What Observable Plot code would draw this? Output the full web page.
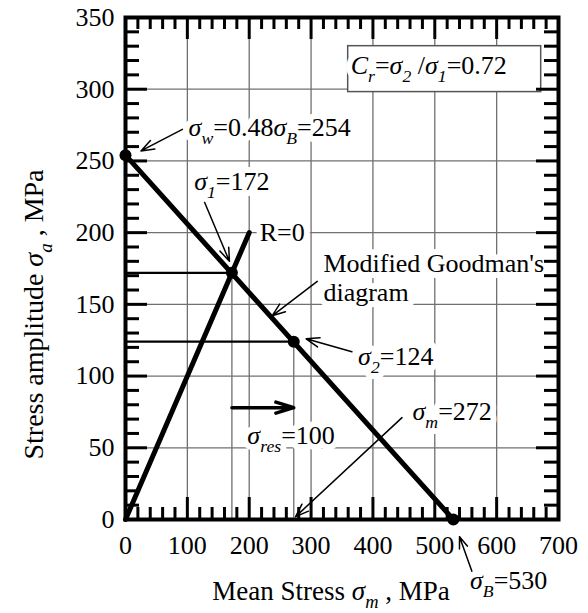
<!DOCTYPE html>
<html><head><meta charset="utf-8">
<script src="https://cdn.jsdelivr.net/npm/d3@7"></script>
<script src="https://cdn.jsdelivr.net/npm/@observablehq/plot@0.6"></script>
<style>body{margin:0;background:#fff} svg, svg text, svg tspan{font-family:"Liberation Serif","Times New Roman",serif !important}</style>
</head><body><div id="chart"></div>
<script>
// ---- axes ----
const xTicks = [0, 100, 200, 300, 400, 500, 600, 700];
const yTicks = [0, 50, 100, 150, 200, 250, 300, 350];
const xLabel = "Mean Stress *σ*_{m} , MPa";
const yLabel = "Stress amplitude *σ*_{a} , MPa";

// ---- data ----
const goodmanX = [0, 530];
const goodmanY = [254, 0];
const r0X = [0, 200];
const r0Y = [0, 200];
const pointX = [0, 172, 272, 530];
const pointY = [254, 172, 124, 0];
const guideX = [172, 272];
const guideY = [172, 124];
const resX1 = [172];
const resX2 = [272];
const resY = [78];

// ---- annotations (data units) ----
const labelText = [
  "*σ*_{w}=0.48*σ*_{B}=254",
  "*σ*_{1}=172",
  "R=0",
  "Modified Goodman's\ndiagram",
  "*σ*_{2}=124",
  "*σ*_{res}=100",
  "*σ*_{m}=272",
  "*σ*_{B}=530",
  "*C*_{r}=*σ*_{2} /*σ*_{1}=0.72"
];
const labelX = [102, 111, 217, 320, 376, 197, 464, 557, 364];
const labelY = [274, 236, 201, 169, 114, 59, 76, -42, 317];
const arrowX1 = [92, 128, 310, 366, 447, 560];
const arrowY1 = [272, 221, 166, 117, 71, -36];
const arrowX2 = [25, 168, 237, 292, 275, 540];
const arrowY2 = [257, 180, 142, 126, 2, -12];
const boxX1 = [360], boxX2 = [672], boxY1 = [298], boxY2 = [330];

// ---- layout ----
const W = 588, H = 613, mL = 125, mR = 30, mT = 17, mB = 94;
const fw = W - mL - mR, fh = H - mT - mB;
const serif = "Liberation Serif";
const FONT = '"Liberation Serif", "Times New Roman", serif';
const grid = "#707070";
const xMinor = d3.range(0, 701, 20).filter(v => v % 100);
const yMinor = d3.range(0, 351, 10).filter(v => v % 50);
const tk = {stroke: "black", strokeWidth: 3};
const lab = {x: (d, i) => labelX[i], y: (d, i) => labelY[i], text: d => d,
  textAnchor: "start", lineAnchor: "middle", fontSize: 26, lineHeight: 1.12, fontFamily: serif};

const plot = Plot.plot({
  width: W, height: H,
  marginLeft: mL, marginRight: mR, marginTop: mT, marginBottom: mB,
  style: {fontFamily: serif, fontSize: "24px", background: "white", color: "black", overflow: "visible"},
  x: {domain: [0, 700]},
  y: {domain: [0, 350]},
  marks: [
    Plot.ruleX(xTicks.slice(1, -1), {x: d => d, stroke: grid, strokeWidth: 1.3}),
    Plot.ruleY(yTicks.slice(1, -1), {y: d => d, stroke: grid, strokeWidth: 1.3}),
    Plot.ruleX(guideX, {x: d => d, y1: 0, y2: (d, i) => guideY[i], stroke: grid, strokeWidth: 1.3}),
    Plot.ruleY(guideY, {y: d => d, x1: 0, x2: (d, i) => guideX[i], stroke: "black", strokeWidth: 2.2}),
    Plot.rect(boxX1, {x1: d => d, x2: (d, i) => boxX2[i], y1: (d, i) => boxY1[i], y2: (d, i) => boxY2[i],
      fill: "white", stroke: "#555", strokeWidth: 1.5}),
    // white background behind the labels, then the labels
    Plot.text(labelText, {...lab, fill: "white", stroke: "white", strokeWidth: 12, strokeLinejoin: "round"}),
    Plot.text(labelText, {...lab, fill: "black"}),
    Plot.line(goodmanX, {x: d => d, y: (d, i) => goodmanY[i], stroke: "black", strokeWidth: 5}),
    Plot.line(r0X, {x: d => d, y: (d, i) => r0Y[i], stroke: "black", strokeWidth: 5}),
    Plot.dot(pointX, {x: d => d, y: (d, i) => pointY[i], r: 6, fill: "black"}),
    Plot.arrow(resX1, {x1: d => d, x2: (d, i) => resX2[i], y1: (d, i) => resY[i], y2: (d, i) => resY[i],
      stroke: "black", strokeWidth: 3.5, headLength: 8, headAngle: 34}),
    Plot.arrow(arrowX1, {x1: d => d, y1: (d, i) => arrowY1[i], x2: (d, i) => arrowX2[i], y2: (d, i) => arrowY2[i],
      stroke: "black", strokeWidth: 1.5, headLength: 14, headAngle: 40}),
    Plot.tickX(xMinor, {x: d => d, insetTop: fh - 12, ...tk}),
    Plot.tickX(xTicks, {x: d => d, insetTop: fh - 22, ...tk}),
    Plot.tickX(xMinor, {x: d => d, insetBottom: fh - 12, ...tk}),
    Plot.tickX(xTicks, {x: d => d, insetBottom: fh - 22, ...tk}),
    Plot.tickY(yMinor, {y: d => d, insetRight: fw - 14, ...tk}),
    Plot.tickY(yTicks, {y: d => d, insetRight: fw - 22, ...tk}),
    Plot.tickY(yMinor, {y: d => d, insetLeft: fw - 14, ...tk}),
    Plot.tickY(yTicks, {y: d => d, insetLeft: fw - 22, ...tk}),
    Plot.frame({stroke: "black", strokeWidth: 4}),
    Plot.axisX(xTicks, {tickSize: 0, tickPadding: 16, fontSize: 26, fontFamily: serif, label: null}),
    Plot.axisY(yTicks, {tickSize: 0, tickPadding: 11, fontSize: 26, fontFamily: serif, label: null}),
    Plot.text([xLabel], {text: d => d, frameAnchor: "bottom", textAnchor: "middle", lineAnchor: "middle",
      dx: -11, dy: 72, fontSize: 27, fontFamily: serif, fill: "black"}),
    Plot.text([yLabel], {text: d => d, frameAnchor: "left", textAnchor: "middle", lineAnchor: "middle",
      rotate: -90, dx: -91, dy: 46, fontSize: 28, fontFamily: serif, fill: "black"})
  ]
});
document.getElementById("chart").append(plot);

// in-SVG stylesheet so the font survives even if the SVG is read on its own
const NS = "http://www.w3.org/2000/svg";
const st = document.createElementNS(NS, "style");
st.textContent = 'text, tspan { font-family: "Liberation Serif", "Times New Roman", serif !important; }';
plot.insertBefore(st, plot.firstChild);
plot.style.fontFamily = FONT;

// rich text: *x* italic, _{x} italic subscript
function richify(el) {
  const s = el.textContent;
  if (/[_*]/.test(s) && !el.querySelector("tspan")) {
    const fs = parseFloat(getComputedStyle(el).fontSize) || 24;
    while (el.firstChild) el.removeChild(el.firstChild);
    const re = /\*([^*]+)\*|_\{([^}]*)\}|([^*_]+)/g;
    let m, shift = 0;
    const sub = fs * 0.3;
    while ((m = re.exec(s))) {
      const t = document.createElementNS(NS, "tspan");
      let want = 0;
      if (m[1] !== undefined) { t.setAttribute("font-style", "italic"); t.textContent = m[1]; }
      else if (m[2] !== undefined) {
        t.setAttribute("font-style", "italic");
        t.setAttribute("font-size", (fs * 0.68).toFixed(1));
        t.textContent = m[2];
        want = sub;
      } else t.textContent = m[3];
      if (want !== shift) { t.setAttribute("dy", (want - shift).toFixed(1)); shift = want; }
      el.appendChild(t);
    }
  }
}
plot.querySelectorAll("text").forEach(richify);
plot.querySelectorAll("text, tspan").forEach(el => {
  el.setAttribute("font-family", FONT);
  el.style.setProperty("font-family", FONT, "important");
});
</script>
</body></html>
